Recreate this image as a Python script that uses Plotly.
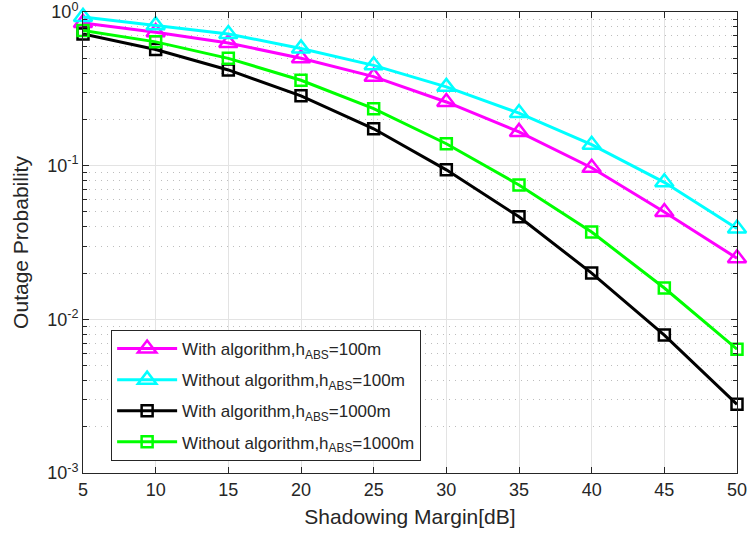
import plotly.graph_objects as go

x_db = [5, 10, 15, 20, 25, 30, 35, 40, 45, 50]
with_alg_100 = [0.85, 0.74, 0.63, 0.50, 0.38, 0.26, 0.166, 0.097, 0.050, 0.025]
without_alg_100 = [0.93, 0.82, 0.72, 0.58, 0.45, 0.326, 0.22, 0.137, 0.078, 0.039]
with_alg_1000 = [0.72, 0.57, 0.42, 0.285, 0.174, 0.094, 0.0465, 0.020, 0.0079, 0.0028]
without_alg_1000 = [0.76, 0.64, 0.50, 0.36, 0.235, 0.139, 0.075, 0.037, 0.016, 0.0064]

names = [
    "With algorithm,h<sub>ABS</sub>=100m",
    "Without algorithm,h<sub>ABS</sub>=100m",
    "With algorithm,h<sub>ABS</sub>=1000m",
    "Without algorithm,h<sub>ABS</sub>=1000m",
]
ytick_vals = [1e-3, 1e-2, 1e-1, 1]
ytick_text = ["10<sup>-3</sup>", "10<sup>-2</sup>", "10<sup>-1</sup>", "10<sup>0</sup>"]
minor_mult = [2, 3, 4, 5, 6, 7, 8, 9]
minor_vals = [m * d for d in [1e-3, 1e-2, 1e-1] for m in minor_mult]

FONT = "Liberation Sans, Arial, sans-serif"
TXT = "#262626"

fig = go.Figure()
series = [
    (with_alg_100, "#ff00ff", "triangle-up-open", 16),
    (without_alg_100, "#00ffff", "triangle-up-open", 16),
    (with_alg_1000, "#000000", "square-open", 11),
    (without_alg_1000, "#00ff00", "square-open", 11),
]
for i, ((vals, col, sym, sz), nm) in enumerate(zip(series, names)):
    fig.add_trace(go.Scatter(
        x=x_db, y=vals, name=nm, mode="lines+markers", legendgroup=f"g{i}",
        line=dict(color=col, width=3),
        marker=dict(symbol=sym, size=sz, color=col, line=dict(color=col, width=2.5)),
        cliponaxis=False,
    ))

fig.update_layout(
    width=748, height=540,
    margin=dict(l=83, r=11, t=12, b=67, autoexpand=False),
    paper_bgcolor="white", plot_bgcolor="white",
    font=dict(family=FONT, color=TXT, size=18),
    legend=dict(
        x=0.043, y=0.026, xanchor="left", yanchor="bottom",
        bordercolor=TXT, borderwidth=1, bgcolor="white",
        font=dict(size=17, color=TXT), itemwidth=60,
        tracegroupgap=6,
    ),
    showlegend=True,
)
fig.update_xaxes(
    range=[5, 50], tickvals=x_db, ticks="inside", ticklen=6,
    tickcolor=TXT, showline=True, linecolor=TXT, linewidth=1, mirror="allticks",
    showgrid=True, gridcolor="#e3e3e3", gridwidth=1, zeroline=False,
    title=dict(text="Shadowing Margin[dB]", font=dict(size=21), standoff=10),
    tickfont=dict(size=18), automargin=False, ticklabeloverflow="allow",
)
fig.update_yaxes(
    type="log", range=[-3, 0.0005], tickvals=ytick_vals, ticktext=ytick_text,
    ticks="inside", ticklen=6, tickcolor=TXT,
    showline=True, linecolor=TXT, linewidth=1, mirror="allticks",
    showgrid=True, gridcolor="#e3e3e3", gridwidth=1, zeroline=False,
    minor=dict(tickvals=minor_vals, ticks="inside", ticklen=4, tickcolor=TXT,
               showgrid=True, gridcolor="#bdbdbd", griddash="1px,5px", gridwidth=1),
    title=dict(text="Outage Probability", font=dict(size=21), standoff=12),
    tickfont=dict(size=18), automargin=False, ticklabeloverflow="allow",
)

fig.write_html("out.html", config={"displayModeBar": False},
               post_script="document.body.style.margin='0px';")
